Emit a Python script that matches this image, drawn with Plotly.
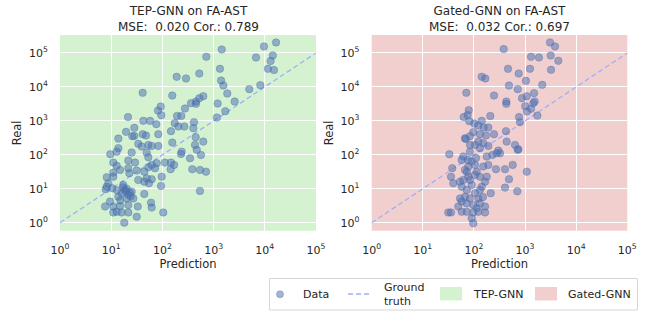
import plotly.graph_objects as go

# ---------------- data ----------------
tep_pred = [16600, 9650, 14300, 6730, 13000, 11500, 15100, 1440, 720, 1330,
            1400, 1550, 4980, 8170, 526, 190, 289, 1850, 2580, 1200,
            1690, 1160, 41.2, 156, 629, 526, 453, 362, 453, 276,
            92.6, 82, 95.2, 193, 234, 21.3, 42.4, 57.3, 174, 414,
            76, 205, 268, 402, 28.3, 19.5, 147, 41.2, 47.8, 83.2,
            25.8, 13.8, 33.8, 39.4, 53.1, 61.8, 83.2, 156, 238, 231,
            346, 433, 468, 567, 629, 9.6, 13.8, 12.8, 25.1, 49.3,
            53.1, 21.6, 29.2, 11, 12.8, 14.9, 11, 11, 8.2, 21.6,
            22.6, 31.5, 44.3, 53.1, 61.8, 77.4, 71.7, 112, 147, 169,
            145, 384, 542, 33.8, 44.3, 49.3, 54.7, 61.8, 96.9, 93.9,
            8.8, 10.5, 7.8, 17.2, 18.6, 16, 21.6, 25.1, 20.1, 13.8,
            27, 44.3, 542, 9.5, 7.6, 11, 14.9, 21.6, 33, 11,
            12.8, 16, 21.6, 31.5, 59.9, 61.8, 104, 18, 711, 8.2,
            447, 28.3, 19, 23, 17, 20, 24, 15, 13]
tep_real = [204000, 156000, 84400, 73600, 57700, 34200, 31300, 127000, 77300, 34200,
            15400, 11000, 8610, 11300, 24800, 19900, 17700, 6390, 3710, 3240,
            1930, 1250, 6700, 5570, 5350, 4670, 3710, 3330, 3170, 2310,
            2640, 2010, 1470, 1400, 1400, 1290, 1000, 1000, 855, 916,
            800, 679, 679, 609, 622, 474, 497, 405, 369, 405,
            354, 300, 210, 175, 196, 183, 183, 229, 124, 106,
            79.4, 196, 140, 99, 245, 104, 157, 124, 116, 116,
            85, 67.5, 58.9, 58.9, 48, 35.9, 29.9, 22.7, 21.8, 40.3,
            28.7, 34.2, 31.9, 43.1, 50.4, 56.5, 40.3, 58.9, 58.9, 50.4,
            37.6, 37.6, 35.9, 18.2, 16.2, 20.4, 14.5, 19.1, 22.7, 12.1,
            14.5, 10.3, 9.7, 12.9, 9.2, 7.4, 6.6, 8.2, 5.2, 5.8,
            5.2, 7.0, 8.6, 4.2, 3.0, 3.0, 3.1, 3.3, 3.0, 2.0,
            2.1, 2.0, 2.0, 1.5, 3.9, 2.8, 2.0, 1.0, 31.9, 11.5,
            330, 361, 8.5, 7.8, 11, 10, 6, 4.5, 9]

gated_pred = [3080, 3850, 382, 1310, 1870, 3170, 4470, 3220, 464, 1250,
              751, 142, 167, 1040, 485, 2170, 718, 70.9, 247, 1500,
              1080, 871, 430, 430, 1450, 1540, 1010, 1090, 1310, 1740,
              79, 75.5, 63, 209, 761, 796, 81.2, 102, 142, 122,
              191, 155, 424, 97.1, 131, 172, 247, 83.7, 66.8, 69,
              122, 105, 131, 152, 191, 437, 636, 718, 300, 324,
              229, 178, 83.7, 61.9, 57.6, 90.4, 105, 77.6, 66.8, 113,
              152, 191, 131, 270, 405, 573, 1080, 485, 405, 705,
              213, 165, 142, 178, 61.9, 77.6, 57.6, 72.2, 90.4, 105,
              66.8, 83.7, 122, 57.6, 72.2, 97.1, 131, 165, 165, 113,
              57.6, 72.2, 97.1, 122, 90.4, 97.1, 33, 37.7, 35.6, 39.5,
              31.5, 35.6, 49.4, 53.4, 53.4, 279, 738, 83.7, 110, 131,
              84, 105, 73, 150, 76.5]
gated_real = [204000, 156000, 130000, 77300, 73600, 84400, 58900, 31900, 34200, 34200,
              24800, 19900, 17700, 15100, 11000, 11500, 8610, 6700, 5570, 6560,
              5350, 4670, 3710, 3170, 3330, 3710, 2710, 1880, 2260, 1430,
              2070, 1500, 1290, 1400, 1290, 916, 980, 832, 1000, 727,
              635, 635, 497, 464, 405, 369, 405, 354, 309, 294,
              245, 196, 157, 220, 183, 245, 196, 140, 133, 111,
              99, 88.5, 124, 88.5, 70.7, 63, 50.4, 44.9, 35.9, 31.9,
              44.9, 50.4, 22.7, 37.6, 37.6, 50.4, 31.9, 19.1, 10.8, 8.4,
              7.4, 16.2, 11.5, 22.7, 18.2, 22.7, 11.5, 9.2, 12.9, 7.4,
              5.8, 5.2, 5.2, 4.2, 3.7, 3.3, 3.7, 3.0, 2.0, 2.7,
              2.1, 2.1, 2.0, 2.1, 1.35, 0.96, 104, 40.3, 22.7, 14.5,
              2.0, 2.0, 3.0, 5.2, 16.2, 111, 146, 196, 81, 9.2,
              18.2, 25.5, 31.3, 5.7, 70.7]

gt_line = [1, 100000]
tick_vals = [1, 10, 100, 1000, 10000, 100000]
tick_text = ["10<sup>0</sup>", "10<sup>1</sup>", "10<sup>2</sup>",
             "10<sup>3</sup>", "10<sup>4</sup>", "10<sup>5</sup>"]

titles = ["TEP-GNN on FA-AST<br>MSE:\u00a0 0.020 Cor.: 0.789",
          "Gated-GNN on FA-AST<br>MSE:\u00a0 0.032 Cor.: 0.697"]
legend_labels = ["Data", "Ground<br>truth", "TEP-GNN", "Gated-GNN"]

# ---------------- style ----------------
W, H = 652, 314
GREEN = "#d4f2d0"
PINK = "#f2cfcf"
PT = "rgba(76,114,176,0.52)"
PT_EDGE = "rgba(76,114,176,0.65)"
GT = "#9fb0f5"
TXT = "#262626"
FONT = "DejaVu Sans"


def px2x(v):
    return v / W


def px2y(v):
    return 1 - v / H


xd1 = [px2x(60), px2x(316)]
xd2 = [px2x(371.7), px2x(627.3)]
yd = [px2y(230.7), px2y(35)]

fig = go.Figure()

for i, (px, ry) in enumerate([(tep_pred, tep_real), (gated_pred, gated_real)]):
    xa = "x" if i == 0 else "x2"
    ya = "y" if i == 0 else "y2"
    fig.add_trace(go.Scatter(
        x=gt_line, y=gt_line, mode="lines", xaxis=xa, yaxis=ya,
        line=dict(color=GT, width=1.3, dash="5px,3px"), showlegend=False,
        hoverinfo="skip"))
    fig.add_trace(go.Scatter(
        x=px, y=ry, mode="markers", xaxis=xa, yaxis=ya,
        marker=dict(size=7.5, color=PT, line=dict(color=PT_EDGE, width=0.6)),
        showlegend=False))

axis_common = dict(
    type="log", range=[0, 5], tickvals=tick_vals, ticktext=tick_text,
    showgrid=True, gridcolor="white", gridwidth=1.2, zeroline=False,
    showline=False, ticks="outside", ticklen=9, tickcolor="rgba(0,0,0,0)",
    tickfont=dict(family=FONT, size=11, color=TXT), automargin=False,
)
yaxis_common = dict(axis_common)
yaxis_common["range"] = [-0.236, 5.53]
yaxis_common["ticklen"] = 9

fig.update_layout(
    width=W, height=H,
    margin=dict(l=0, r=0, t=0, b=0),
    paper_bgcolor="white", plot_bgcolor="rgba(0,0,0,0)",
    font=dict(family=FONT, color=TXT),
    xaxis=dict(axis_common, domain=xd1, anchor="y",
               title=dict(text="Prediction", font=dict(size=11.5, color=TXT), standoff=4)),
    yaxis=dict(yaxis_common, domain=yd, anchor="x",
               title=dict(text="Real", font=dict(size=11.5, color=TXT), standoff=4)),
    xaxis2=dict(axis_common, domain=xd2, anchor="y2",
                title=dict(text="Prediction", font=dict(size=11.5, color=TXT), standoff=4)),
    yaxis2=dict(yaxis_common, domain=yd, anchor="x2",
                title=dict(text="Real", font=dict(size=11.5, color=TXT), standoff=4)),
    showlegend=False,
)

# subplot backgrounds
for xr, yr, col in [("x domain", "y domain", GREEN), ("x2 domain", "y2 domain", PINK)]:
    fig.add_shape(type="rect", xref=xr, yref=yr, x0=0, x1=1, y0=0, y1=1,
                  fillcolor=col, line=dict(width=0), layer="below")

# titles
for xd, t in [(xd1, titles[0]), (xd2, titles[1])]:
    fig.add_annotation(text=t, xref="paper", yref="paper",
                       x=(xd[0] + xd[1]) / 2, y=px2y(1.5), xanchor="center", yanchor="top",
                       showarrow=False, font=dict(family=FONT, size=12, color=TXT))

# legend (drawn in paper coordinates)
fig.add_shape(type="rect", xref="paper", yref="paper",
              x0=px2x(269.5), x1=px2x(637.5), y0=px2y(310), y1=px2y(278.5),
              line=dict(color="#d6d6d6", width=1), fillcolor="white")
fig.add_shape(type="circle", xref="paper", yref="paper",
              x0=px2x(276.5), x1=px2x(283.5), y0=px2y(297.8), y1=px2y(290.8),
              fillcolor=PT, line=dict(color=PT_EDGE, width=0.6))
fig.add_shape(type="line", xref="paper", yref="paper",
              x0=px2x(348), x1=px2x(372), y0=px2y(294), y1=px2y(294),
              line=dict(color=GT, width=1.3, dash="5px,3px"))
fig.add_shape(type="rect", xref="paper", yref="paper",
              x0=px2x(440), x1=px2x(462), y0=px2y(300.5), y1=px2y(287),
              fillcolor=GREEN, line=dict(width=0))
fig.add_shape(type="rect", xref="paper", yref="paper",
              x0=px2x(535), x1=px2x(557), y0=px2y(300.5), y1=px2y(287),
              fillcolor=PINK, line=dict(width=0))
for xpx, lab in [(300.5, legend_labels[0]), (381.5, legend_labels[1]),
                 (471, legend_labels[2]), (566, legend_labels[3])]:
    fig.add_annotation(text=lab, xref="paper", yref="paper", x=px2x(xpx), y=px2y(294),
                       xanchor="left", yanchor="middle", align="left", showarrow=False,
                       font=dict(family=FONT, size=11, color=TXT))

# remove the default 8px page margin so the figure fills the window exactly
fig.write_html("out.html", config={"displayModeBar": False},
               post_script="document.body.style.margin='0';")
